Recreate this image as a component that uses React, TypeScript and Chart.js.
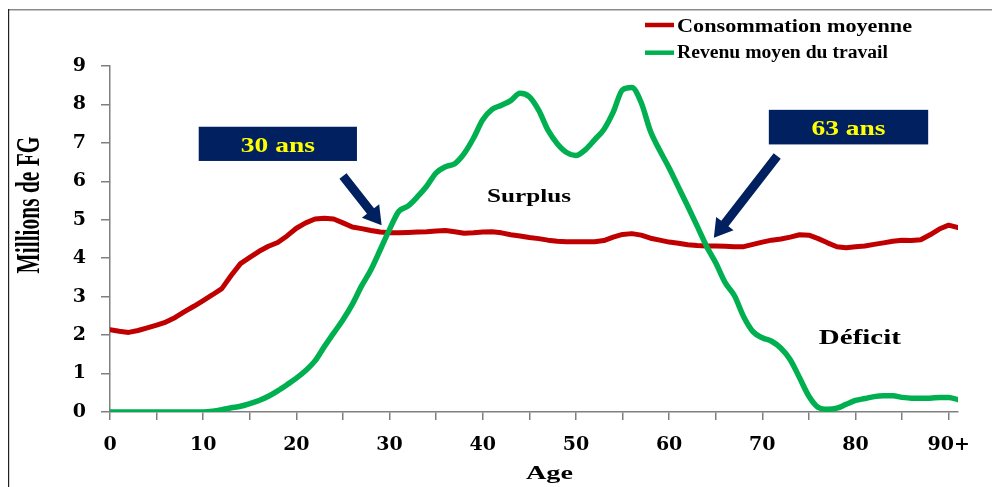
import React, { useEffect, useRef } from 'react';
import { Chart, registerables } from 'chart.js';

Chart.register(...registerables);

// ---- Data ----
const ages = [
  0, 1, 2, 3, 4, 5, 6, 7, 8, 9, 10, 11, 12, 13, 14, 15, 16, 17, 18, 19,
  20, 21, 22, 23, 24, 25, 26, 27, 28, 29, 30, 31, 32, 33, 34, 35, 36, 37, 38, 39,
  40, 41, 42, 43, 44, 45, 46, 47, 48, 49, 50, 51, 52, 53, 54, 55, 56, 57, 58, 59,
  60, 61, 62, 63, 64, 65, 66, 67, 68, 69, 70, 71, 72, 73, 74, 75, 76, 77, 78, 79,
  80, 81, 82, 83, 84, 85, 86, 87, 88, 89, 90, 91,
];

const consommationMoyenne = [
  2.14, 2.10, 2.07, 2.12, 2.19, 2.26, 2.34, 2.46, 2.61, 2.75,
  2.90, 3.05, 3.21, 3.55, 3.86, 4.02, 4.18, 4.31, 4.41, 4.58,
  4.78, 4.92, 5.02, 5.04, 5.02, 4.92, 4.81, 4.77, 4.72, 4.68,
  4.66, 4.66, 4.67, 4.68, 4.69, 4.71, 4.72, 4.69, 4.65, 4.66,
  4.68, 4.69, 4.66, 4.61, 4.58, 4.54, 4.51, 4.47, 4.44, 4.43,
  4.43, 4.43, 4.43, 4.46, 4.55, 4.62, 4.64, 4.60, 4.52, 4.47,
  4.42, 4.39, 4.35, 4.33, 4.32, 4.32, 4.31, 4.30, 4.30, 4.36,
  4.42, 4.47, 4.50, 4.55, 4.61, 4.60, 4.51, 4.40, 4.30, 4.27,
  4.30, 4.32, 4.36, 4.40, 4.44, 4.47, 4.46, 4.48, 4.61, 4.76,
  4.86, 4.80,
];

const revenuMoyenTravail = [
  0.00, 0.00, 0.00, 0.00, 0.00, 0.00, 0.00, 0.00, 0.00, 0.00,
  0.00, 0.02, 0.06, 0.11, 0.15, 0.22, 0.30, 0.41, 0.55, 0.71,
  0.88, 1.08, 1.33, 1.70, 2.05, 2.40, 2.80, 3.28, 3.70, 4.22,
  4.75, 5.22, 5.36, 5.60, 5.88, 6.22, 6.38, 6.46, 6.72, 7.12,
  7.60, 7.87, 7.98, 8.10, 8.29, 8.20, 7.85, 7.33, 6.98, 6.75,
  6.67, 6.82, 7.08, 7.35, 7.80, 8.38, 8.44, 8.05, 7.30, 6.80,
  6.35, 5.85, 5.35, 4.84, 4.32, 3.88, 3.37, 3.03, 2.48, 2.09,
  1.93, 1.84, 1.66, 1.36, 0.89, 0.41, 0.12, 0.07, 0.10, 0.20,
  0.30, 0.35, 0.40, 0.42, 0.42, 0.38, 0.36, 0.36, 0.36, 0.38,
  0.38, 0.32,
];

const seriesNames = ['Consommation moyenne', 'Revenu moyen du travail'];
const xTickValues = [0, 5, 10, 15, 20, 25, 30, 35, 40, 45, 50, 55, 60, 65, 70, 75, 80, 85, 90];
const xTickLabels = ['0', '', '10', '', '20', '', '30', '', '40', '', '50', '', '60', '', '70', '', '80', '', '90+'];
const yTickValues = [0, 1, 2, 3, 4, 5, 6, 7, 8, 9];
const yTitle = 'Millions de FG';
const xTitle = 'Age';
const calloutLabels = ['30 ans', '63 ans'];
const regionLabels = ['Surplus', 'Déficit'];

// ---- Styles ----
const RED = '#c00000';
const GREEN = '#00b050';
const NAVY = '#002060';
const YELLOW = '#ffff00';
const AXIS = '#7f7f7f';
const SERIF = '"Liberation Serif", "Times New Roman", serif';

function stretchText(
  ctx: CanvasRenderingContext2D, text: string, x0: number, baseline: number,
  size: number, targetW: number, color: string
) {
  ctx.save();
  ctx.font = `bold ${size}px ${SERIF}`;
  const w = ctx.measureText(text).width;
  ctx.translate(x0, baseline);
  ctx.scale(targetW / w, 1);
  ctx.fillStyle = color;
  ctx.textAlign = 'left';
  ctx.textBaseline = 'alphabetic';
  ctx.fillText(text, 0, 0);
  ctx.restore();
}

function arrow(
  ctx: CanvasRenderingContext2D, tx: number, ty: number, px: number, py: number,
  sw: number, hl: number, hw: number, color: string
) {
  const dx = px - tx, dy = py - ty;
  const L = Math.hypot(dx, dy);
  const ux = dx / L, uy = dy / L;
  const nx = -uy, ny = ux;
  const bx = px - ux * hl, by = py - uy * hl;
  ctx.save();
  ctx.fillStyle = color;
  ctx.beginPath();
  ctx.moveTo(tx + nx * sw, ty + ny * sw);
  ctx.lineTo(bx + nx * sw, by + ny * sw);
  ctx.lineTo(bx + nx * hw, by + ny * hw);
  ctx.lineTo(px, py);
  ctx.lineTo(bx - nx * hw, by - ny * hw);
  ctx.lineTo(bx - nx * sw, by - ny * sw);
  ctx.lineTo(tx - nx * sw, ty - ny * sw);
  ctx.closePath();
  ctx.fill();
  ctx.restore();
}

const decorPlugin = {
  id: 'decor',
  beforeDraw(chart: any) {
    const ctx: CanvasRenderingContext2D = chart.ctx;
    ctx.save();
    ctx.fillStyle = '#8a8a8a';
    ctx.fillRect(8, 9, 984, 1.5);
    ctx.fillStyle = '#222';
    ctx.fillRect(8, 9, 1.2, 478);
    ctx.restore();
  },
  afterDraw(chart: any) {
    const ctx: CanvasRenderingContext2D = chart.ctx;
    const xs = chart.scales.x;
    const ys = chart.scales.y;
    const X = (v: number) => xs.getPixelForValue(v);
    const Y = (v: number) => ys.getPixelForValue(v);

    // Legend
    ctx.save();
    ctx.lineCap = 'butt';
    ctx.lineWidth = 4.5;
    ctx.strokeStyle = RED;
    ctx.beginPath(); ctx.moveTo(645, 25); ctx.lineTo(674, 25); ctx.stroke();
    ctx.strokeStyle = GREEN;
    ctx.beginPath(); ctx.moveTo(645, 52.7); ctx.lineTo(674, 52.7); ctx.stroke();
    ctx.restore();
    stretchText(ctx, seriesNames[0], 677, 31.7, 18, 235, '#000');
    stretchText(ctx, seriesNames[1], 677, 58.3, 18, 211, '#000');

    // Callout boxes
    const boxes = [
      { a0: 9.52, a1: 26.5, v0: 7.42, v1: 6.53, label: calloutLabels[0] },
      { a0: 70.7, a1: 87.8, v0: 7.86, v1: 6.96, label: calloutLabels[1] },
    ];
    boxes.forEach((b) => {
      const x0 = X(b.a0), x1 = X(b.a1), y0 = Y(b.v0), y1 = Y(b.v1);
      ctx.save();
      ctx.fillStyle = NAVY;
      ctx.fillRect(x0, y0, x1 - x0, y1 - y0);
      ctx.restore();
      const cx = (x0 + x1) / 2, cy = (y0 + y1) / 2;
      stretchText(ctx, b.label, cx - 37, cy + 8.2, 22, 74, YELLOW);
    });

    // Arrows
    arrow(ctx, X(25.0), Y(6.14), X(29.15), Y(4.86), 4.5, 18, 11, NAVY);
    arrow(ctx, X(71.6), Y(6.66), X(64.8), Y(4.53), 4.5, 18, 11, NAVY);

    // Region labels
    stretchText(ctx, regionLabels[0], X(40.45), Y(5.5) + 1, 19, 84, '#000');
    stretchText(ctx, regionLabels[1], X(76.07), Y(1.77) + 0.5, 20, 82, '#000');

    // Axis titles
    stretchText(ctx, xTitle, 526, 479, 19, 47, '#000');
    ctx.save();
    ctx.font = `bold 22px ${SERIF}`;
    const w = ctx.measureText(yTitle).width;
    ctx.translate(39.3, 205 + 137 / 2);
    ctx.rotate(-Math.PI / 2);
    ctx.scale(137 / w, 1.5);
    ctx.fillStyle = '#000';
    ctx.textAlign = 'left';
    ctx.textBaseline = 'alphabetic';
    ctx.fillText(yTitle, 0, 0);
    ctx.restore();
  },
};

export default function App() {
  const ref = useRef<HTMLCanvasElement | null>(null);

  useEffect(() => {
    if (!ref.current) return;
    const tickFont = { family: '"DejaVu Serif", serif', weight: 'bold' as const, size: 19 };
    const chart = new Chart(ref.current, {
      type: 'line',
      data: {
        datasets: [
          {
            label: seriesNames[1],
            data: ages.map((a, i) => ({ x: a, y: revenuMoyenTravail[i] })),
            borderColor: GREEN,
            backgroundColor: GREEN,
            borderWidth: 5.5,
            pointRadius: 0,
            cubicInterpolationMode: 'monotone',
            borderJoinStyle: 'round',
            borderCapStyle: 'round',
            order: 1,
          },
          {
            label: seriesNames[0],
            data: ages.map((a, i) => ({ x: a, y: consommationMoyenne[i] })),
            borderColor: RED,
            backgroundColor: RED,
            borderWidth: 5,
            pointRadius: 0,
            tension: 0,
            borderJoinStyle: 'round',
            borderCapStyle: 'round',
            order: 2,
          },
        ],
      },
      options: {
        responsive: false,
        animation: false,
        events: [],
        layout: { padding: { left: 0, top: 66, right: 34, bottom: 0 } },
        plugins: { legend: { display: false }, tooltip: { enabled: false } },
        scales: {
          x: {
            type: 'linear',
            min: 0,
            max: 91,
            afterFit: (s: any) => { s.height = 75; },
            afterBuildTicks: (s: any) => { s.ticks = xTickValues.map((v) => ({ value: v })); },
            ticks: {
              autoSkip: false,
              maxRotation: 0,
              padding: 14,
              color: '#000',
              font: tickFont,
              callback: (v: any) => xTickLabels[xTickValues.indexOf(Number(v))] ?? '',
            },
            grid: { display: true, drawOnChartArea: false, drawTicks: true, tickLength: 8, color: AXIS, lineWidth: 1.5 },
            border: { display: true, color: AXIS, width: 1.5 },
          },
          y: {
            type: 'linear',
            min: 0,
            max: 9,
            afterFit: (s: any) => { s.width = 110; },
            afterBuildTicks: (s: any) => { s.ticks = yTickValues.map((v) => ({ value: v })); },
            ticks: {
              padding: 15,
              color: '#000',
              font: tickFont,
              callback: (v: any) => String(v),
            },
            grid: { display: true, drawOnChartArea: false, drawTicks: true, tickLength: 9, color: AXIS, lineWidth: 1.5 },
            border: { display: true, color: AXIS, width: 1.5 },
          },
        },
      },
      plugins: [decorPlugin],
    } as any);
    return () => chart.destroy();
  }, []);

  return (
    <div style={{ position: 'absolute', left: 0, top: 0, width: 992, height: 487 }}>
      <canvas ref={ref} width={992} height={487} style={{ display: 'block', width: 992, height: 487 }} />
    </div>
  );
}
